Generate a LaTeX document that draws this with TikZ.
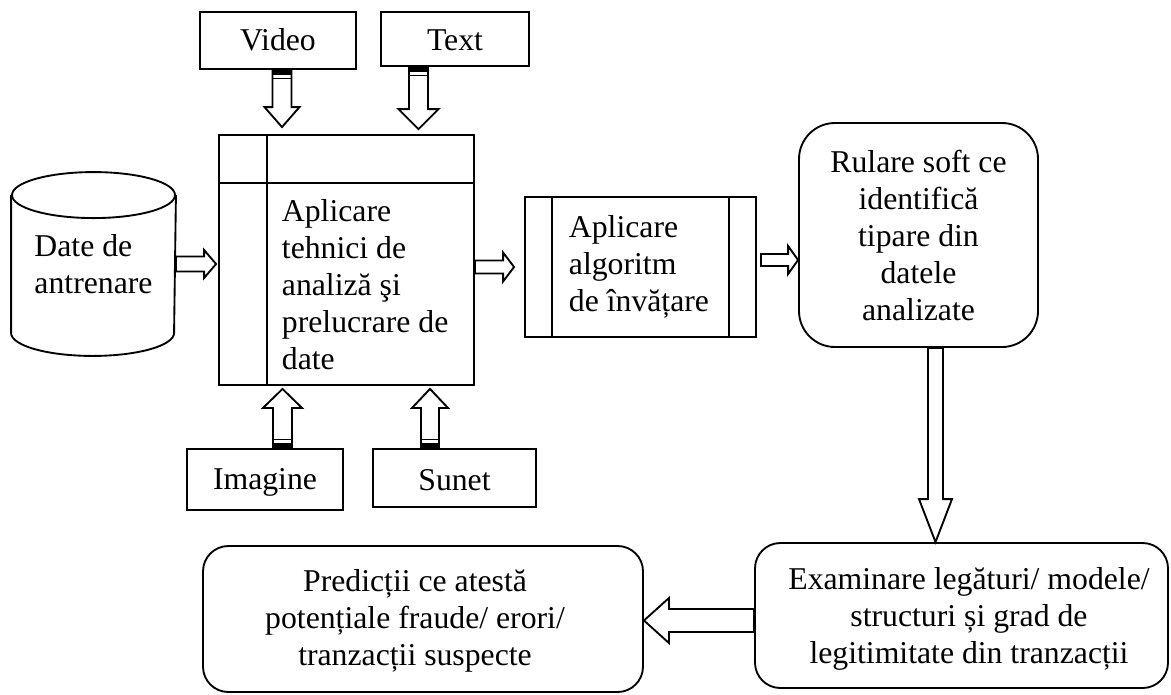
\documentclass[tikz,border=0pt]{standalone}
\usepackage{fontspec}
\setmainfont{Liberation Serif}
\usetikzlibrary{calc}
\newcommand\dfont{\fontsize{23.8pt}{27.75pt}\selectfont}
% block arrow: #1 tail, #2 tip, #3 shaft half width, #4 head half width, #5 head length
\newcommand\barrow[5]{%
 \draw[blockarrow] ($(#1)!#3!90:(#2)$) -- ($($(#2)!#5!(#1)$)!#3!90:(#2)$) -- ($($(#2)!#5!(#1)$)!#4!90:(#2)$) -- (#2) -- ($($(#2)!#5!(#1)$)!#4!-90:(#2)$) -- ($($(#2)!#5!(#1)$)!#3!-90:(#2)$) -- ($(#1)!#3!-90:(#2)$) -- cycle;}
% striped tail of a block arrow
\newcommand\btail[3]{%
 \fill ($(#1)!#3!90:(#2)$) -- ($($(#1)!3.75pt!(#2)$)!#3!90:(#2)$) -- ($($(#1)!3.75pt!(#2)$)!#3!-90:(#2)$) -- ($(#1)!#3!-90:(#2)$) -- cycle;
 \draw[line width=0.9pt] ($($(#1)!6.3pt!(#2)$)!#3!90:(#2)$) -- ($($(#1)!6.3pt!(#2)$)!#3!-90:(#2)$);}
\begin{document}
\begin{tikzpicture}[x=0.75pt,y=-0.75pt, line width=1.4pt,
 box/.style={draw, rectangle, inner sep=0pt, font=\dfont},
 single/.style={text height=#1, text depth=4.5pt},
 txt/.style={inner sep=0pt, font=\dfont},
 blockarrow/.style={draw, fill=white, line join=miter}]
\useasboundingbox (0,0) rectangle (1171,694);

% input boxes
\node[box, single=19pt, minimum width=117pt, minimum height=42.75pt] (video) at (278,40.5) {Video};
\node[box, single=22pt, minimum width=111pt, minimum height=40.5pt] (text) at (455,39) {Text};
\node[box, single=20pt, minimum width=117pt, minimum height=45.75pt] (imagine) at (265,479.5) {Imagine};
\node[box, single=23pt, minimum width=122.25pt, minimum height=43.5pt] (sunet) at (454.5,478) {Sunet};

% main processing box (internal storage)
\node[box, minimum width=191.25pt, minimum height=187.5pt] (main) at (346.5,260) {};
\draw ($(main.north west)+(49,0)$) -- ($(main.south west)+(49,0)$);
\draw ($(main.north west)+(0,49)$) -- ($(main.north east)+(0,49)$);
\node[txt, align=left, anchor=west] (maintxt) at (281,285) {Aplicare\\tehnici de\\analiză şi\\prelucrare de\\date};

% cylinder
\node[txt, align=left, minimum width=122.25pt, minimum height=136.5pt] (cyl) at (93.5,264) {Date de\\antrenare};
\draw ($(cyl.north west)+(0,23)$) -- ($(cyl.south west)+(0,-23)$) arc[start angle=180, end angle=360, x radius=61.125pt, y radius=17.25pt] -- ($(cyl.north east)+(0,23)$);
\draw ($(cyl.north)+(0,23)$) ellipse [x radius=61.125pt, y radius=17.25pt];

% algorithm box (predefined process)
\node[box, minimum width=173.25pt, minimum height=105pt] (algo) at (640.5,267) {};
\draw ($(algo.north west)+(28,0)$) -- ($(algo.south west)+(28,0)$);
\draw ($(algo.north east)+(-28,0)$) -- ($(algo.south east)+(-28,0)$);
\node[txt, align=left, anchor=west] (algotxt) at (568,267) {Aplicare\\algoritm\\de învățare};

% rounded boxes
\node[box, rounded corners=27pt, minimum width=179.25pt, minimum height=168pt, align=center] (rulare) at (918.5,235) {Rulare soft ce\\identifică\\tipare din\\datele\\analizate};
\node[box, rounded corners=19pt, minimum width=309.75pt, minimum height=108.75pt] (exam) at (961.5,615.5) {};
\node[txt, align=center] (examtxt) at (969,619) {Examinare legături/ modele/\\structuri și grad de\\legitimitate din tranzacții};
\node[box, rounded corners=19pt, minimum width=330pt, minimum height=109.5pt] (pred) at (423,619) {};
\node[txt, align=center] (predtxt) at (415,621) {Predicții ce atestă\\potențiale fraude/ erori/\\tranzacții suspecte};

% block arrows
\coordinate (va) at ($(video.south)+(4,0)$);
\coordinate (vb) at ($(main.north -| va)+(0,-7)$);
\barrow{va}{vb}{7.125pt}{13.125pt}{15pt}
\btail{va}{vb}{7.125pt}

\coordinate (ta) at ($(text.south)+(-36.5,0)$);
\coordinate (tb) at ($(main.north -| ta)+(0,-5)$);
\barrow{ta}{tb}{7.125pt}{15pt}{15pt}
\btail{ta}{tb}{7.125pt}

\coordinate (ia) at ($(imagine.north)+(17.5,0)$);
\coordinate (ib) at ($(main.south -| ia)+(0,3)$);
\barrow{ia}{ib}{7.125pt}{14.625pt}{14.25pt}
\btail{ia}{ib}{7.125pt}

\coordinate (sa) at ($(sunet.north)+(-24.5,0)$);
\coordinate (sb) at ($(main.south -| sa)+(0,3)$);
\barrow{sa}{sb}{6.75pt}{13.5pt}{14.25pt}
\btail{sa}{sb}{6.75pt}

\coordinate (ca) at (cyl.east);
\coordinate (cb) at ($(main.west |- ca)+(-2,0)$);
\barrow{ca}{cb}{5.625pt}{10.5pt}{9pt}

\coordinate (ma) at (main.east |- algo.west);
\coordinate (mb) at ($(algo.west)+(-10,0)$);
\barrow{ma}{mb}{4.875pt}{10.875pt}{8.25pt}

\coordinate (aa) at ($(algo.east)+(4,-7)$);
\coordinate (ab) at (rulare.west |- aa);
\barrow{aa}{ab}{4.5pt}{10.5pt}{7.5pt}

\coordinate (ra) at ($(rulare.south)+(17,0)$);
\coordinate (rb) at (exam.north -| ra);
\barrow{ra}{rb}{5.625pt}{12.375pt}{32.25pt}

\coordinate (ea) at ($(exam.west)+(0,5)$);
\coordinate (eb) at (pred.east |- ea);
\barrow{ea}{eb}{8.625pt}{16.875pt}{18.75pt}
\end{tikzpicture}
\end{document}
